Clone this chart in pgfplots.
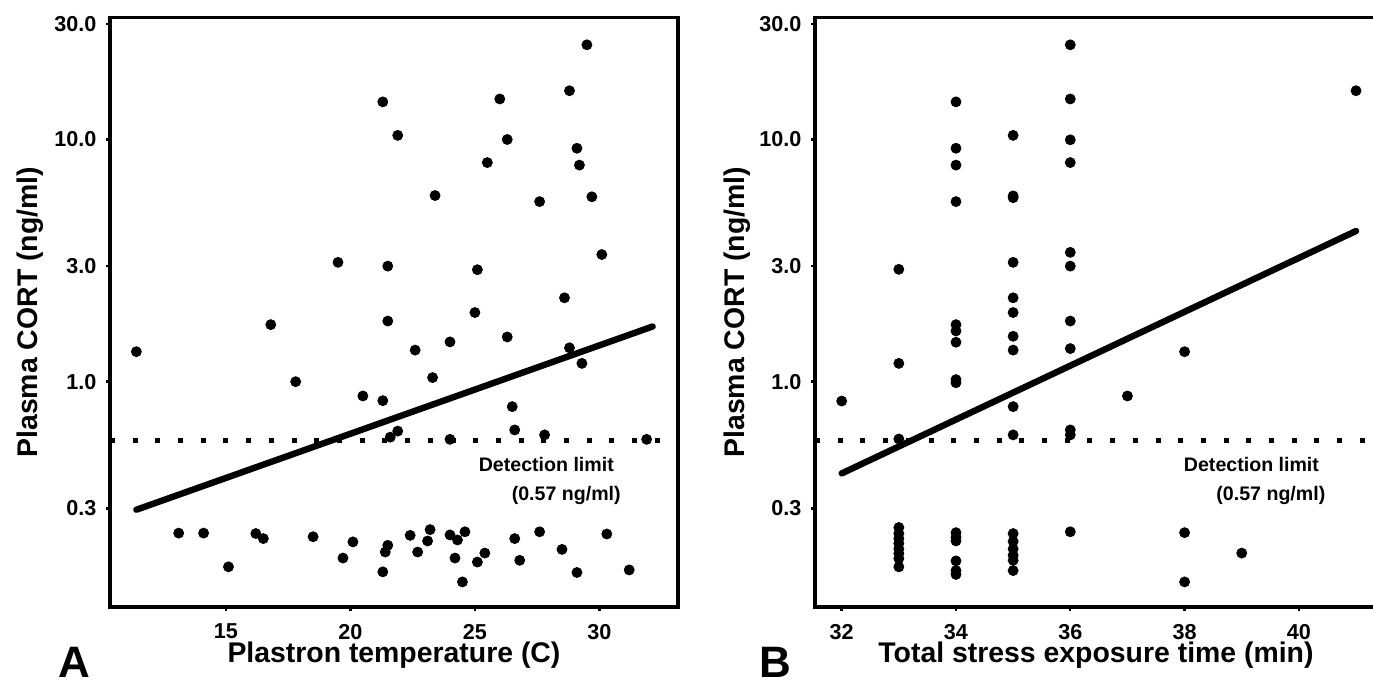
\documentclass[border=0pt]{standalone}
\usepackage{fontspec}
\setmainfont{Liberation Sans}
\usepackage{pgfplots}
\usepackage{pgfplotstable}
\pgfplotsset{compat=1.18}

% panel A: plastron temperature vs plasma CORT
\pgfplotstableread{
x y
29.5 24.6
28.8 15.9
21.3 14.3
26.0 14.7
21.9 10.4
26.3 10.0
29.1 9.2
29.2 7.84
25.5 8.03
23.4 5.87
27.6 5.54
29.7 5.8
19.5 3.11
21.5 3.0
25.1 2.9
30.1 3.35
28.6 2.22
21.5 1.78
25.0 1.93
26.3 1.53
16.8 1.72
11.4 1.33
17.8 1.0
22.6 1.35
24.0 1.46
28.8 1.38
29.3 1.19
23.3 1.04
20.5 0.873
21.3 0.835
26.5 0.789
21.6 0.59
21.9 0.625
24.0 0.578
26.6 0.632
27.8 0.603
31.9 0.578
13.1 0.237
14.1 0.237
15.1 0.172
16.2 0.236
16.5 0.225
18.5 0.229
19.7 0.187
20.1 0.218
21.3 0.164
21.4 0.198
21.5 0.211
22.4 0.232
22.7 0.198
23.1 0.22
23.2 0.245
24.0 0.233
24.3 0.222
24.2 0.187
24.6 0.24
24.5 0.149
25.1 0.18
25.4 0.196
26.6 0.225
26.8 0.183
27.6 0.24
28.5 0.203
29.1 0.163
30.3 0.235
31.2 0.167
}\tempdata

% panel B: total stress exposure time vs plasma CORT
\pgfplotstableread{
x y
32 0.832
33 2.91
33 1.19
33 0.58
33 0.25
33 0.236
33 0.225
33 0.215
33 0.204
33 0.195
33 0.186
33 0.172
34 14.3
34 9.2
34 7.84
34 5.54
34 1.72
34 1.62
34 1.455
34 1.02
34 0.99
34 0.238
34 0.228
34 0.22
34 0.182
34 0.166
34 0.16
35 10.4
35 5.85
35 5.75
35 3.11
35 2.22
35 1.93
35 1.54
35 1.35
35 0.789
35 0.603
35 0.236
35 0.219
35 0.204
35 0.192
35 0.183
35 0.166
36 24.6
36 14.7
36 9.97
36 8.03
36 3.42
36 3.0
36 1.78
36 1.37
36 0.632
36 0.603
36 0.24
37 0.873
38 1.33
38 0.238
38 0.149
39 0.196
41 15.9
}\timedata

\tikzset{
  ptdots/.style={only marks, mark=*, mark size=2.5pt, black},
  fitline/.style={black, line width=3.2pt, line cap=round},
  limitline/.style={black, line width=2.5pt, dash pattern=on 2.5pt off 8.85pt},
}

\begin{document}
\begin{tikzpicture}
\useasboundingbox (0,0) rectangle (686.5pt,342pt);

\begin{axis}[
  at={(55pt,38.5pt)}, anchor=south west,
  scale only axis,
  width=284pt, height=294.75pt,
  ymode=log,
  ymin=0.1174, ymax=31.9,
  ytick={0.3,1,3,10,30},
  yticklabels={0.3,1.0,3.0,10.0,30.0},
  yminorticks=false,
  xmin=10.34, xmax=33.16,
  xtick={15,20,25,30},
  tick align=outside,
  tick pos=left,
  major tick length=2pt,
  tick style={line width=1.2pt, black},
  axis line style={line width=1.65pt},
  ticklabel style={font=\bfseries\fontsize{10.8}{12}\selectfont},
  xticklabel style={yshift=-3pt},
  yticklabel style={xshift=-1.3pt},
  /pgf/number format/assume math mode=true,
  label style={font=\bfseries\fontsize{14.2}{16}\selectfont},
  xlabel style={at={(axis description cs:0.5,-0.095)}, anchor=base},
  ylabel style={at={(axis description cs:-0.141,0.5)}, anchor=center},
  xlabel={Plastron temperature (C)},
  ylabel={Plasma CORT (ng/ml)},
  clip=false,
]
\addplot[limitline] coordinates {(10.34,0.57) (33.16,0.57)};
\addplot[fitline] coordinates {(11.4,0.296) (32.14,1.69)};
\addplot[ptdots] table[x=x,y=y] {\tempdata};
\node[font=\bfseries\fontsize{9.8}{11}\selectfont] at (axis cs:27.87,0.453) {Detection limit};
\node[font=\bfseries\fontsize{9.8}{11}\selectfont] at (axis cs:28.67,0.338) {(0.57 ng/ml)};
\end{axis}

\begin{axis}[
  at={(407.5pt,38.5pt)}, anchor=south west,
  scale only axis,
  width=281pt, height=294.75pt,
  ymode=log,
  ymin=0.1174, ymax=31.9,
  ytick={0.3,1,3,10,30},
  yticklabels={0.3,1.0,3.0,10.0,30.0},
  yminorticks=false,
  xmin=31.533, xmax=41.367,
  xtick={32,34,36,38,40},
  tick align=outside,
  tick pos=left,
  major tick length=2pt,
  tick style={line width=1.2pt, black},
  axis line style={line width=1.65pt},
  ticklabel style={font=\bfseries\fontsize{10.8}{12}\selectfont},
  xticklabel style={yshift=-3pt},
  yticklabel style={xshift=-1.3pt},
  /pgf/number format/assume math mode=true,
  label style={font=\bfseries\fontsize{14.2}{16}\selectfont},
  xlabel style={at={(axis description cs:0.5,-0.095)}, anchor=base},
  ylabel style={at={(axis description cs:-0.139,0.5)}, anchor=center},
  xlabel={Total stress exposure time (min)},
  ylabel={Plasma CORT (ng/ml)},
  clip=false,
]
\addplot[limitline] coordinates {(31.533,0.57) (41.367,0.57)};
\addplot[fitline] coordinates {(32,0.418) (41,4.19)};
\addplot[ptdots] table[x=x,y=y] {\timedata};
\node[font=\bfseries\fontsize{9.8}{11}\selectfont] at (axis cs:39.17,0.453) {Detection limit};
\node[font=\bfseries\fontsize{9.8}{11}\selectfont] at (axis cs:39.51,0.338) {(0.57 ng/ml)};
\end{axis}

\node[anchor=base west, inner sep=0pt, font=\bfseries\fontsize{22}{26}\selectfont] at (29pt,3pt) {A};
\node[anchor=base west, inner sep=0pt, font=\bfseries\fontsize{22}{26}\selectfont] at (379.5pt,3pt) {B};
\end{tikzpicture}
\end{document}
